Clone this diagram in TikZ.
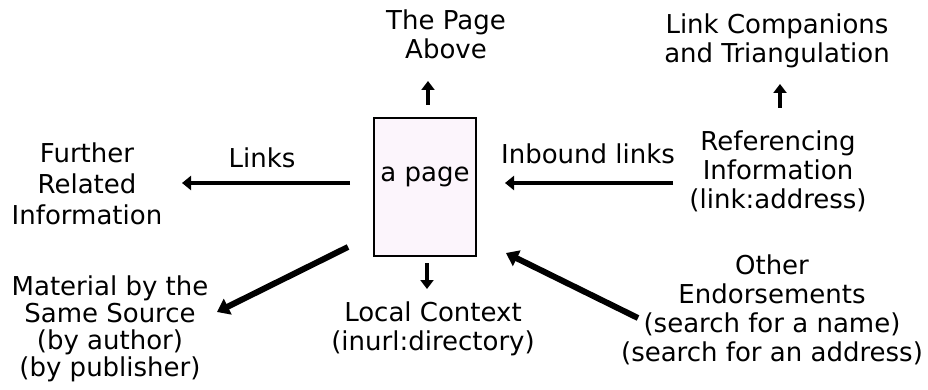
\documentclass[tikz,border=0pt]{standalone}
\usepackage{fontspec}
\setmainfont{DejaVu Sans}
\usetikzlibrary{arrows.meta}
\definecolor{pagefill}{RGB}{252,245,252}
\tikzset{
  lbl/.style={font=\fontsize{26}{29}\selectfont, align=center, inner sep=0pt},
  arr/.style={line width=4.5pt, -{Triangle[length=9pt,width=14pt]}},
  varr/.style={line width=4pt, -{Triangle[length=9pt,width=13pt]}},
  darr/.style={line width=6pt, -{Triangle[length=12pt,width=17pt]}},
}

\begin{document}
\begin{tikzpicture}[x=1pt,y=-1pt]
\useasboundingbox (0,0) rectangle (928,390);
\node[draw, line width=2.2pt, fill=pagefill, minimum width=102pt,
    minimum height=138pt] (page) at (425,187) {};
\node[lbl] (pagelbl) at (425,177) {a page};

\node[lbl] (above) at (446,34) {The Page\\Above};
\node[lbl] (companions) at (777,41) {Link Companions\\and Triangulation};
\node[lbl, font=\fontsize{26}{31}\selectfont] (further) at (87,184)
    {Further\\Related\\Information};
\node[lbl] (links) at (262,158) {Links};
\node[lbl] (inbound) at (588,154) {Inbound links};
\node[lbl] (referencing) at (778,171)
    {Referencing\\Information\\(link:address)};
\node[lbl, font=\fontsize{26}{27}\selectfont] (material) at (110,329)
    {Material by the\\Same Source\\(by author)\\(by publisher)};
\node[lbl] (local) at (433,329) {Local Context\\(inurl:directory)};
\node[lbl] (endorse) at (772,310)
    {Other\\Endorsements\\(search for a name)\\(search for an address)};

\coordinate (upfrom) at (428,105);
\coordinate (upto) at (428,81);
\coordinate (downfrom) at (427,263);
\coordinate (downto) at (427,289);
\coordinate (leftfrom) at (350,183);
\coordinate (leftto) at (182,183);
\coordinate (rightfrom) at (673,183);
\coordinate (rightto) at (505,183);
\coordinate (refup) at (780,108);
\coordinate (refupto) at (780,84);
\coordinate (matfrom) at (348,247);
\coordinate (matto) at (217,312);
\coordinate (endfrom) at (638,318);
\coordinate (endto) at (506,253);

\draw[varr] (upfrom) -- (upto);
\draw[varr] (downfrom) -- (downto);
\draw[varr] (refup) -- (refupto);
\draw[arr] (leftfrom) -- (leftto);
\draw[arr] (rightfrom) -- (rightto);
\draw[darr] (matfrom) -- (matto);
\draw[darr] (endfrom) -- (endto);
\end{tikzpicture}
\end{document}
